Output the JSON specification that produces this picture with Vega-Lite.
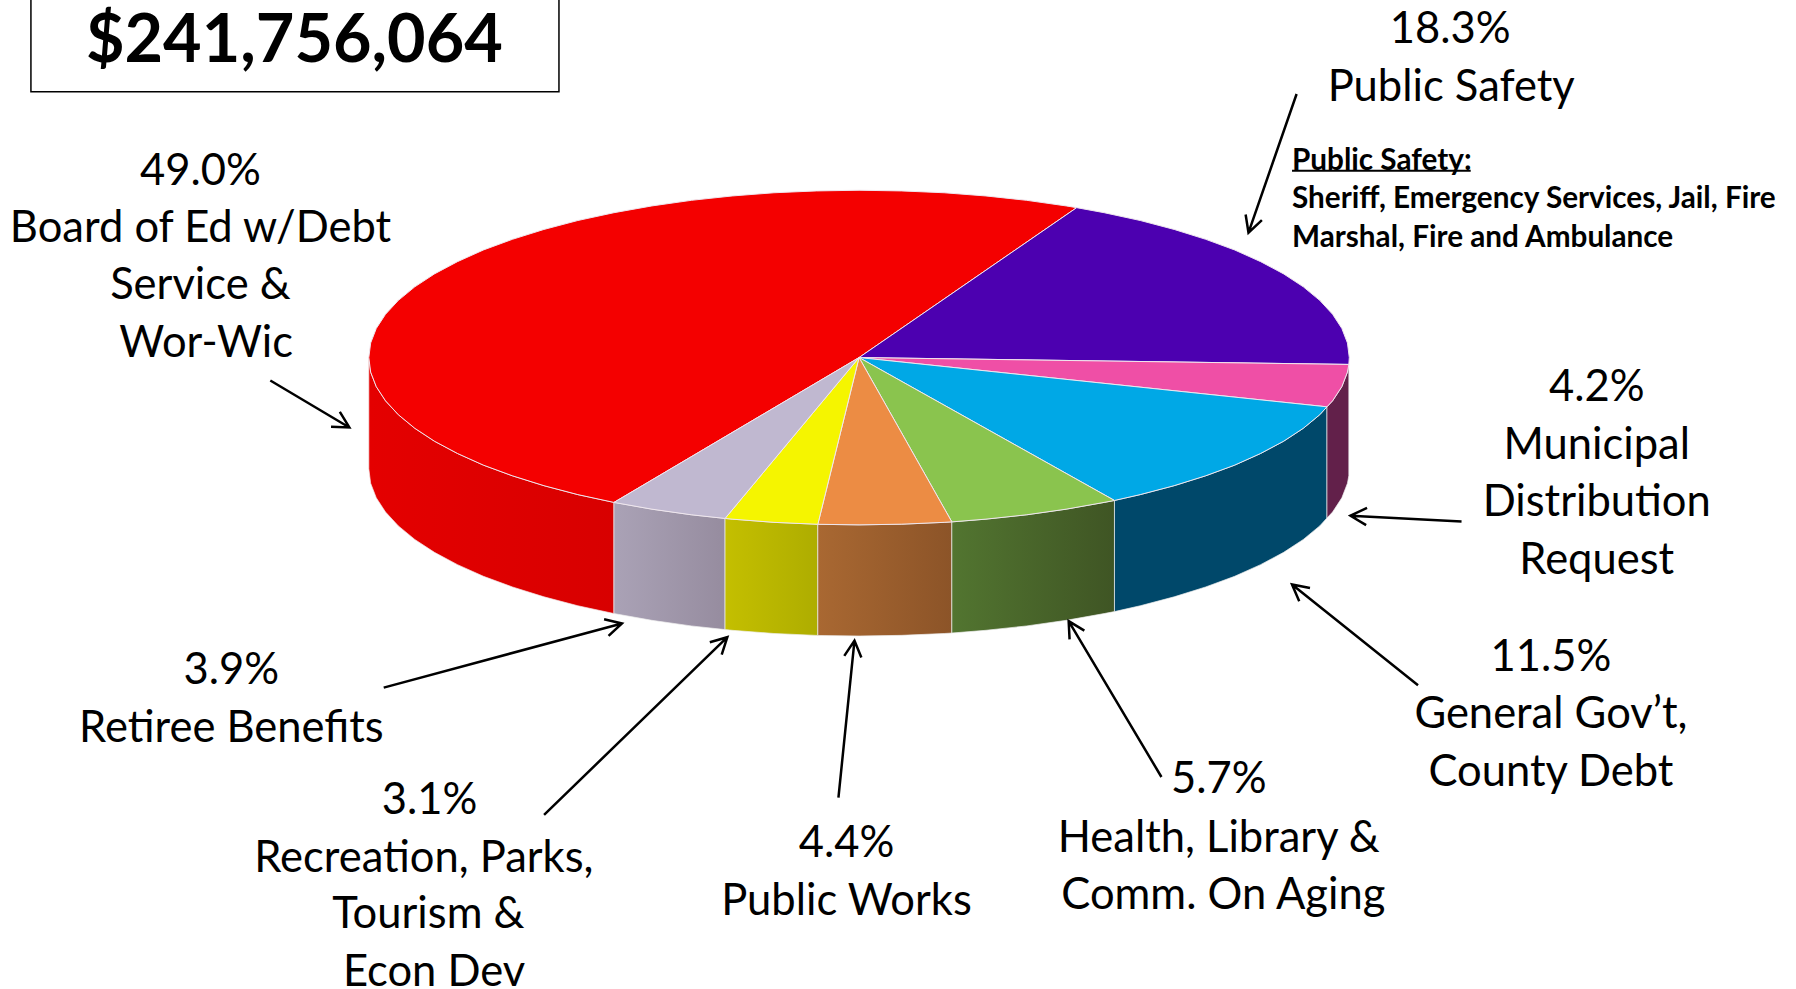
{"$schema":"https://vega.github.io/schema/vega-lite/v6.json","width":1796,"height":989,"padding":0,"autosize":{"type":"none"},"background":"white","config":{"view":{"stroke":null}},
"datasets":{
"pie":[
{"slice":"Board of Ed","share":49.0,"o":0,"x":750,"y":312},
{"slice":"Board of Ed","share":49.0,"o":1,"x":536,"y":438.4,"yb":535.4},
{"slice":"Board of Ed","share":49.0,"o":2,"x":504.5,"y":431.6,"yb":528.6},
{"slice":"Board of Ed","share":49.0,"o":3,"x":474.9,"y":423.8,"yb":520.8},
{"slice":"Board of Ed","share":49.0,"o":4,"x":447.4,"y":415.2,"yb":512.2},
{"slice":"Board of Ed","share":49.0,"o":5,"x":422.1,"y":405.9,"yb":502.9},
{"slice":"Board of Ed","share":49.0,"o":6,"x":399.4,"y":395.7,"yb":492.7},
{"slice":"Board of Ed","share":49.0,"o":7,"x":379.3,"y":385,"yb":482},
{"slice":"Board of Ed","share":49.0,"o":8,"x":362.1,"y":373.7,"yb":470.7},
{"slice":"Board of Ed","share":49.0,"o":9,"x":347.8,"y":361.9,"yb":458.9},
{"slice":"Board of Ed","share":49.0,"o":10,"x":336.6,"y":349.8,"yb":446.8},
{"slice":"Board of Ed","share":49.0,"o":11,"x":328.5,"y":337.4,"yb":434.4},
{"slice":"Board of Ed","share":49.0,"o":12,"x":323.6,"y":324.7,"yb":421.7},
{"slice":"Board of Ed","share":49.0,"o":13,"x":322,"y":312,"yb":409},
{"slice":"Board of Ed","share":49.0,"o":14,"x":323.6,"y":299.3},
{"slice":"Board of Ed","share":49.0,"o":15,"x":328.5,"y":286.6},
{"slice":"Board of Ed","share":49.0,"o":16,"x":336.6,"y":274.2},
{"slice":"Board of Ed","share":49.0,"o":17,"x":347.8,"y":262.1},
{"slice":"Board of Ed","share":49.0,"o":18,"x":362.1,"y":250.3},
{"slice":"Board of Ed","share":49.0,"o":19,"x":379.3,"y":239},
{"slice":"Board of Ed","share":49.0,"o":20,"x":399.4,"y":228.3},
{"slice":"Board of Ed","share":49.0,"o":21,"x":422.1,"y":218.1},
{"slice":"Board of Ed","share":49.0,"o":22,"x":447.4,"y":208.8},
{"slice":"Board of Ed","share":49.0,"o":23,"x":474.9,"y":200.2},
{"slice":"Board of Ed","share":49.0,"o":24,"x":504.5,"y":192.4},
{"slice":"Board of Ed","share":49.0,"o":25,"x":536,"y":185.6},
{"slice":"Board of Ed","share":49.0,"o":26,"x":569.1,"y":179.7},
{"slice":"Board of Ed","share":49.0,"o":27,"x":603.6,"y":174.8},
{"slice":"Board of Ed","share":49.0,"o":28,"x":639.2,"y":171},
{"slice":"Board of Ed","share":49.0,"o":29,"x":675.7,"y":168.2},
{"slice":"Board of Ed","share":49.0,"o":30,"x":712.7,"y":166.6},
{"slice":"Board of Ed","share":49.0,"o":31,"x":750,"y":166},
{"slice":"Board of Ed","share":49.0,"o":32,"x":787.3,"y":166.6},
{"slice":"Board of Ed","share":49.0,"o":33,"x":824.3,"y":168.2},
{"slice":"Board of Ed","share":49.0,"o":34,"x":860.8,"y":171},
{"slice":"Board of Ed","share":49.0,"o":35,"x":896.4,"y":174.8},
{"slice":"Board of Ed","share":49.0,"o":36,"x":930.9,"y":179.7},
{"slice":"Board of Ed","share":49.0,"o":37,"x":940,"y":181.2},
{"slice":"Board of Ed","share":49.0,"o":38,"x":750,"y":312},
{"slice":"Public Safety","share":18.3,"o":0,"x":750,"y":312},
{"slice":"Public Safety","share":18.3,"o":1,"x":940,"y":181.2},
{"slice":"Public Safety","share":18.3,"o":2,"x":964,"y":185.6},
{"slice":"Public Safety","share":18.3,"o":3,"x":995.5,"y":192.4},
{"slice":"Public Safety","share":18.3,"o":4,"x":1025.1,"y":200.2},
{"slice":"Public Safety","share":18.3,"o":5,"x":1052.6,"y":208.8},
{"slice":"Public Safety","share":18.3,"o":6,"x":1077.9,"y":218.1},
{"slice":"Public Safety","share":18.3,"o":7,"x":1100.6,"y":228.3},
{"slice":"Public Safety","share":18.3,"o":8,"x":1120.7,"y":239},
{"slice":"Public Safety","share":18.3,"o":9,"x":1137.9,"y":250.3},
{"slice":"Public Safety","share":18.3,"o":10,"x":1152.2,"y":262.1},
{"slice":"Public Safety","share":18.3,"o":11,"x":1163.4,"y":274.2},
{"slice":"Public Safety","share":18.3,"o":12,"x":1171.5,"y":286.6},
{"slice":"Public Safety","share":18.3,"o":13,"x":1176.4,"y":299.3},
{"slice":"Public Safety","share":18.3,"o":14,"x":1178,"y":312},
{"slice":"Public Safety","share":18.3,"o":15,"x":1177.6,"y":318},
{"slice":"Public Safety","share":18.3,"o":16,"x":750,"y":312},
{"slice":"Municipal Distribution","share":4.2,"o":0,"x":750,"y":312},
{"slice":"Municipal Distribution","share":4.2,"o":1,"x":1177.6,"y":318,"yb":415},
{"slice":"Municipal Distribution","share":4.2,"o":2,"x":1176.4,"y":324.7,"yb":421.7},
{"slice":"Municipal Distribution","share":4.2,"o":3,"x":1171.5,"y":337.4,"yb":434.4},
{"slice":"Municipal Distribution","share":4.2,"o":4,"x":1163.4,"y":349.8,"yb":446.8},
{"slice":"Municipal Distribution","share":4.2,"o":5,"x":1158.5,"y":355,"yb":452},
{"slice":"Municipal Distribution","share":4.2,"o":6,"x":750,"y":312},
{"slice":"General Gov't","share":11.5,"o":0,"x":750,"y":312},
{"slice":"General Gov't","share":11.5,"o":1,"x":1158.5,"y":355,"yb":452},
{"slice":"General Gov't","share":11.5,"o":2,"x":1152.2,"y":361.9,"yb":458.9},
{"slice":"General Gov't","share":11.5,"o":3,"x":1137.9,"y":373.7,"yb":470.7},
{"slice":"General Gov't","share":11.5,"o":4,"x":1120.7,"y":385,"yb":482},
{"slice":"General Gov't","share":11.5,"o":5,"x":1100.6,"y":395.7,"yb":492.7},
{"slice":"General Gov't","share":11.5,"o":6,"x":1077.9,"y":405.9,"yb":502.9},
{"slice":"General Gov't","share":11.5,"o":7,"x":1052.6,"y":415.2,"yb":512.2},
{"slice":"General Gov't","share":11.5,"o":8,"x":1025.1,"y":423.8,"yb":520.8},
{"slice":"General Gov't","share":11.5,"o":9,"x":995.5,"y":431.6,"yb":528.6},
{"slice":"General Gov't","share":11.5,"o":10,"x":973,"y":436.7,"yb":533.7},
{"slice":"General Gov't","share":11.5,"o":11,"x":750,"y":312},
{"slice":"Health, Library","share":5.7,"o":0,"x":750,"y":312},
{"slice":"Health, Library","share":5.7,"o":1,"x":973,"y":436.7,"yb":533.7},
{"slice":"Health, Library","share":5.7,"o":2,"x":964,"y":438.4,"yb":535.4},
{"slice":"Health, Library","share":5.7,"o":3,"x":930.9,"y":444.3,"yb":541.3},
{"slice":"Health, Library","share":5.7,"o":4,"x":896.4,"y":449.2,"yb":546.2},
{"slice":"Health, Library","share":5.7,"o":5,"x":860.8,"y":453,"yb":550},
{"slice":"Health, Library","share":5.7,"o":6,"x":831,"y":455.4,"yb":552.4},
{"slice":"Health, Library","share":5.7,"o":7,"x":750,"y":312},
{"slice":"Public Works","share":4.4,"o":0,"x":750,"y":312},
{"slice":"Public Works","share":4.4,"o":1,"x":831,"y":455.4,"yb":552.4},
{"slice":"Public Works","share":4.4,"o":2,"x":824.3,"y":455.8,"yb":552.8},
{"slice":"Public Works","share":4.4,"o":3,"x":787.3,"y":457.4,"yb":554.4},
{"slice":"Public Works","share":4.4,"o":4,"x":750,"y":458,"yb":555},
{"slice":"Public Works","share":4.4,"o":5,"x":714,"y":457.5,"yb":554.5},
{"slice":"Public Works","share":4.4,"o":6,"x":750,"y":312},
{"slice":"Recreation, Parks","share":3.1,"o":0,"x":750,"y":312},
{"slice":"Recreation, Parks","share":3.1,"o":1,"x":714,"y":457.5,"yb":554.5},
{"slice":"Recreation, Parks","share":3.1,"o":2,"x":675.7,"y":455.8,"yb":552.8},
{"slice":"Recreation, Parks","share":3.1,"o":3,"x":639.2,"y":453,"yb":550},
{"slice":"Recreation, Parks","share":3.1,"o":4,"x":633,"y":452.4,"yb":549.4},
{"slice":"Recreation, Parks","share":3.1,"o":5,"x":750,"y":312},
{"slice":"Retiree Benefits","share":3.9,"o":0,"x":750,"y":312},
{"slice":"Retiree Benefits","share":3.9,"o":1,"x":633,"y":452.4,"yb":549.4},
{"slice":"Retiree Benefits","share":3.9,"o":2,"x":603.6,"y":449.2,"yb":546.2},
{"slice":"Retiree Benefits","share":3.9,"o":3,"x":569.1,"y":444.3,"yb":541.3},
{"slice":"Retiree Benefits","share":3.9,"o":4,"x":536,"y":438.4,"yb":535.4},
{"slice":"Retiree Benefits","share":3.9,"o":5,"x":750,"y":312}
],
"labels":[
{"text":"18.3%","x":1266,"y":24},{"text":"Public Safety","x":1267,"y":75},
{"text":"49.0%","x":175,"y":148},{"text":"Board of Ed w/Debt","x":175,"y":198},{"text":"Service &","x":175,"y":248},{"text":"Wor-Wic","x":180,"y":298},
{"text":"4.2%","x":1394,"y":337},{"text":"Municipal","x":1394,"y":387},{"text":"Distribution","x":1394,"y":437},{"text":"Request","x":1394,"y":488},
{"text":"11.5%","x":1354,"y":572},{"text":"General Gov’t,","x":1354,"y":622},{"text":"County Debt","x":1354,"y":673},
{"text":"5.7%","x":1064,"y":679},{"text":"Health, Library &","x":1064,"y":730},{"text":"Comm. On Aging","x":1068,"y":780},
{"text":"4.4%","x":739,"y":735},{"text":"Public Works","x":739,"y":785},
{"text":"3.1%","x":375,"y":697},{"text":"Recreation, Parks,","x":370,"y":748},{"text":"Tourism &","x":374,"y":797},{"text":"Econ Dev","x":379,"y":847},
{"text":"3.9%","x":202,"y":584},{"text":"Retiree Benefits","x":202,"y":634}
],
"notes":[
{"text":"Public Safety:","x":1128,"y":139},{"text":"Sheriff, Emergency Services, Jail, Fire","x":1128,"y":172},{"text":"Marshal, Fire and Ambulance","x":1128,"y":206}
],
"arrows":[
{"a":1,"o":0,"x":1132,"y":82},{"a":1,"o":1,"x":1090,"y":203},{"a":1,"o":2,"x":1101.7,"y":192.1},{"a":1,"o":3,"x":1090,"y":203},{"a":1,"o":4,"x":1087.5,"y":187.2},
{"a":2,"o":0,"x":1276,"y":455},{"a":2,"o":1,"x":1179,"y":450},{"a":2,"o":2,"x":1192.7,"y":458.2},{"a":2,"o":3,"x":1179,"y":450},{"a":2,"o":4,"x":1193.5,"y":443.2},
{"a":3,"o":0,"x":1238,"y":598},{"a":3,"o":1,"x":1128,"y":510},{"a":3,"o":2,"x":1134.3,"y":524.7},{"a":3,"o":3,"x":1128,"y":510},{"a":3,"o":4,"x":1143.7,"y":513},
{"a":4,"o":0,"x":1014,"y":678},{"a":4,"o":1,"x":933,"y":542},{"a":4,"o":2,"x":933.8,"y":557.9},{"a":4,"o":3,"x":933,"y":542},{"a":4,"o":4,"x":946.7,"y":550.3},
{"a":5,"o":0,"x":732,"y":696},{"a":5,"o":1,"x":746,"y":559},{"a":5,"o":2,"x":737.1,"y":572.3},{"a":5,"o":3,"x":746,"y":559},{"a":5,"o":4,"x":752,"y":573.8},
{"a":6,"o":0,"x":475,"y":711},{"a":6,"o":1,"x":635,"y":556},{"a":6,"o":2,"x":619.7,"y":560.4},{"a":6,"o":3,"x":635,"y":556},{"a":6,"o":4,"x":630.1,"y":571.2},
{"a":7,"o":0,"x":335,"y":600},{"a":7,"o":1,"x":543,"y":544},{"a":7,"o":2,"x":527.4,"y":540.4},{"a":7,"o":3,"x":543,"y":544},{"a":7,"o":4,"x":531.3,"y":554.9},
{"a":8,"o":0,"x":236,"y":332},{"a":8,"o":1,"x":305,"y":373},{"a":8,"o":2,"x":296.7,"y":359.4},{"a":8,"o":3,"x":305,"y":373},{"a":8,"o":4,"x":289,"y":372.3}
]
},
"encoding":{
"x":{"field":"x","type":"quantitative","axis":null,"scale":{"domain":[0,1568],"nice":false,"zero":false}},
"y":{"field":"y","type":"quantitative","axis":null,"scale":{"domain":[863,0],"nice":false,"zero":false}}
},
"layer":[
{"data":{"name":"pie"},"transform":[{"filter":"datum.slice==='Board of Ed' && isValid(datum.yb)"}],"mark":{"type":"area","orient":"vertical","stroke":"#f4e4e4","strokeWidth":0.7,"fill":{"gradient":"linear","x1":0,"x2":1,"y1":0,"y2":0,"stops":[{"offset":0,"color":"#e40000"},{"offset":1,"color":"#d80000"}]}},"encoding":{"y2":{"field":"yb"}}},
{"data":{"name":"pie"},"transform":[{"filter":"datum.slice==='Retiree Benefits' && isValid(datum.yb)"}],"mark":{"type":"area","orient":"vertical","stroke":"#eeeeee","strokeWidth":0.7,"fill":{"gradient":"linear","x1":0,"x2":1,"y1":0,"y2":0,"stops":[{"offset":0,"color":"#aaa2b6"},{"offset":1,"color":"#968c9f"}]}},"encoding":{"y2":{"field":"yb"}}},
{"data":{"name":"pie"},"transform":[{"filter":"datum.slice==='Recreation, Parks' && isValid(datum.yb)"}],"mark":{"type":"area","orient":"vertical","stroke":"#eeeeee","strokeWidth":0.7,"fill":{"gradient":"linear","x1":0,"x2":1,"y1":0,"y2":0,"stops":[{"offset":0,"color":"#c4bf00"},{"offset":1,"color":"#aead00"}]}},"encoding":{"y2":{"field":"yb"}}},
{"data":{"name":"pie"},"transform":[{"filter":"datum.slice==='Public Works' && isValid(datum.yb)"}],"mark":{"type":"area","orient":"vertical","stroke":"#eeeeee","strokeWidth":0.7,"fill":{"gradient":"linear","x1":0,"x2":1,"y1":0,"y2":0,"stops":[{"offset":0,"color":"#a96832"},{"offset":1,"color":"#8c5428"}]}},"encoding":{"y2":{"field":"yb"}}},
{"data":{"name":"pie"},"transform":[{"filter":"datum.slice==='Health, Library' && isValid(datum.yb)"}],"mark":{"type":"area","orient":"vertical","stroke":"#eeeeee","strokeWidth":0.7,"fill":{"gradient":"linear","x1":0,"x2":1,"y1":0,"y2":0,"stops":[{"offset":0,"color":"#527530"},{"offset":1,"color":"#3f5524"}]}},"encoding":{"y2":{"field":"yb"}}},
{"data":{"name":"pie"},"transform":[{"filter":"datum.slice===\"General Gov't\" && isValid(datum.yb)"}],"mark":{"type":"area","orient":"vertical","stroke":"#eeeeee","strokeWidth":0.7,"fill":"#00486a"},"encoding":{"y2":{"field":"yb"}}},
{"data":{"name":"pie"},"transform":[{"filter":"datum.slice==='Municipal Distribution' && isValid(datum.yb)"}],"mark":{"type":"area","orient":"vertical","stroke":"#eeeeee","strokeWidth":0.7,"fill":"#62204a"},"encoding":{"y2":{"field":"yb"}}},
{"data":{"name":"pie"},"mark":{"type":"line","stroke":"#efe6ee","strokeWidth":1,"strokeJoin":"round"},"encoding":{
"detail":{"field":"slice"},"order":{"field":"o","type":"quantitative"},
"fill":{"field":"slice","type":"nominal","legend":null,"scale":{"domain":["Board of Ed","Public Safety","Municipal Distribution","General Gov't","Health, Library","Public Works","Recreation, Parks","Retiree Benefits"],"range":["#f40000","#4c00b0","#ef4fa6","#00a8e6","#8ac44e","#ec8c44","#f5f500","#c0b8d0"]}}}},
{"data":{"name":"arrows"},"mark":{"type":"line","stroke":"#000000","strokeWidth":2.5},"encoding":{"detail":{"field":"a"},"order":{"field":"o","type":"quantitative"}}},
{"data":{"values":[{"x":27,"x2":488,"y":-10,"y2":80}]},"mark":{"type":"rect","fill":null,"stroke":"#000000","strokeWidth":1.5,"clip":false},"encoding":{"x2":{"field":"x2"},"y2":{"field":"y2"}}},
{"data":{"values":[{"x":1128,"x2":1284,"y":149}]},"mark":{"type":"rule","stroke":"#000000","strokeWidth":1.8},"encoding":{"x2":{"field":"x2"}}},
{"data":{"values":[{"text":"$241,756,064","x":257,"y":37}]},"mark":{"type":"text","font":"Lato","fontWeight":"bold","fontSize":66.5,"align":"center","baseline":"middle","fill":"#000000"},"encoding":{"text":{"field":"text"}}},
{"data":{"name":"labels"},"mark":{"type":"text","font":"Lato","fontSize":43.5,"align":"center","baseline":"middle","dy":2,"fill":"#000000"},"encoding":{"text":{"field":"text"}}},
{"data":{"name":"notes"},"mark":{"type":"text","font":"Lato","fontWeight":"bold","fontSize":29.7,"align":"left","baseline":"middle","dy":2,"fill":"#000000"},"encoding":{"text":{"field":"text"}}}
]}
